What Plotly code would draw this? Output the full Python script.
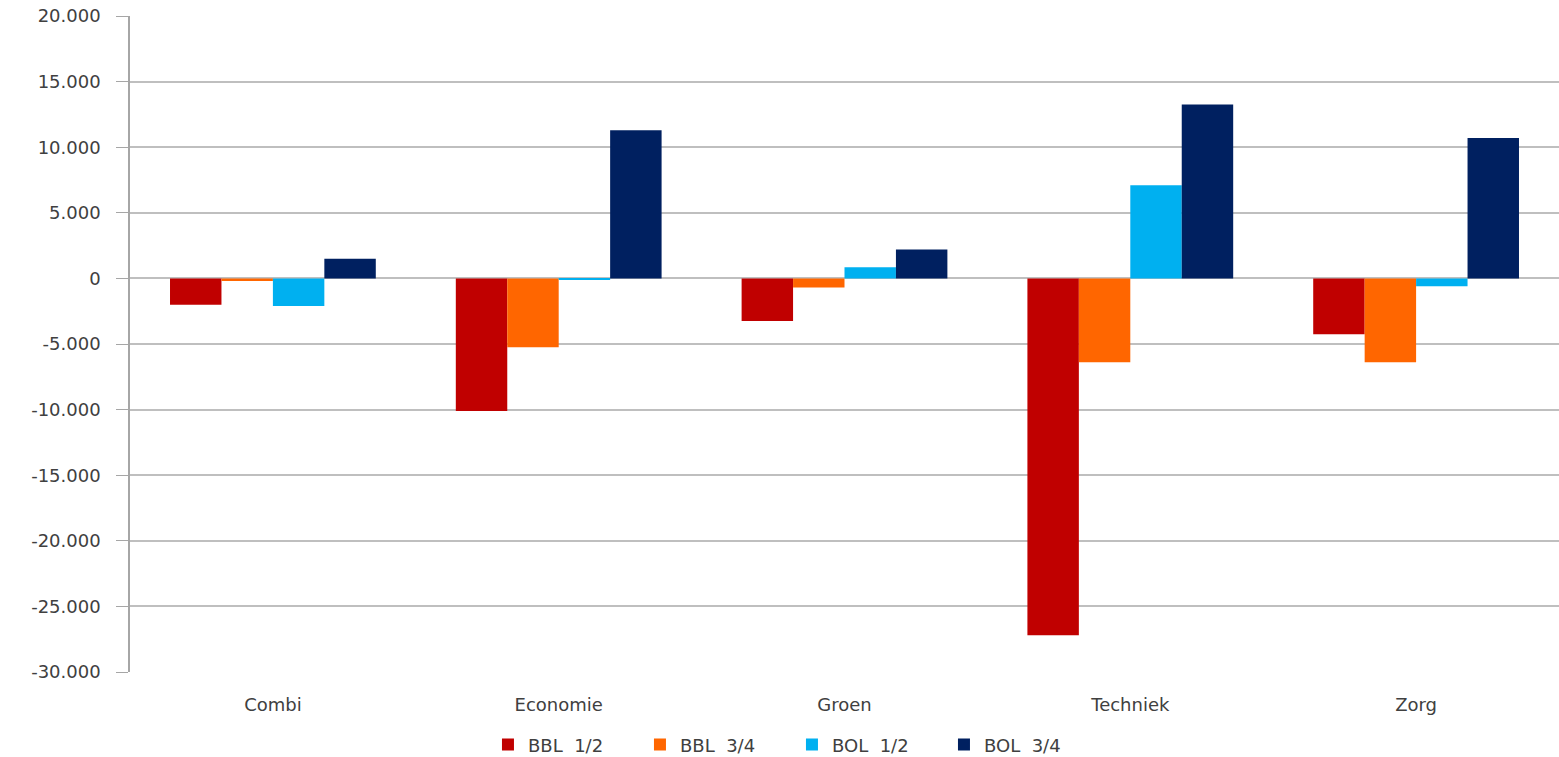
import plotly.graph_objects as go

categories = ["Combi", "Economie", "Groen", "Techniek", "Zorg"]
series_names = ["BBL  1/2", "BBL  3/4", "BOL  1/2", "BOL  3/4"]
bbl_12 = [-2000, -10100, -3250, -27200, -4250]
bbl_34 = [-200, -5250, -700, -6400, -6400]
bol_12 = [-2100, -100, 850, 7100, -600]
bol_34 = [1500, 11300, 2200, 13250, 10700]
colors = ["#C00000", "#FF6600", "#00B0F0", "#002060"]
y_ticks = [20000, 15000, 10000, 5000, 0, -5000, -10000, -15000, -20000, -25000, -30000]
y_tick_labels = ["20.000", "15.000", "10.000", "5.000", "0", "-5.000", "-10.000",
                 "-15.000", "-20.000", "-25.000", "-30.000"]

fig = go.Figure()
for name, vals, col in zip(series_names, [bbl_12, bbl_34, bol_12, bol_34], colors):
    fig.add_trace(go.Bar(x=categories, y=vals, name=name, marker_color=col,
                         marker_line_width=0))

fig.update_layout(
    width=1559, height=757,
    margin=dict(l=130, r=0, t=16, b=85),
    paper_bgcolor="white", plot_bgcolor="white",
    barmode="group", bargap=0.28, bargroupgap=0,
    font=dict(family="DejaVu Sans, sans-serif", size=18, color="#404040"),
    legend=dict(orientation="h", xref="container", yref="container",
                x=0.313, xanchor="left", y=0.016, yanchor="middle",
                font=dict(size=18, color="#404040"), itemwidth=30,
                entrywidth=107, entrywidthmode="pixels",
                traceorder="normal"),
    showlegend=True,
)
fig.update_yaxes(range=[-30000, 20000], tickvals=y_ticks, ticktext=y_tick_labels,
                 showgrid=True, gridcolor="#BFBFBF", gridwidth=1.5,
                 showline=True, linecolor="#A6A6A6", linewidth=1.5,
                 ticks="outside", ticklen=12, tickcolor="#A6A6A6",
                 zeroline=True, zerolinecolor="#BFBFBF", zerolinewidth=1.5,
                 ticklabelstandoff=12)
fig.update_xaxes(showline=False, showgrid=False, ticks="", tickfont=dict(size=18),
                 ticklabelstandoff=20)

fig.write_html("out.html")
